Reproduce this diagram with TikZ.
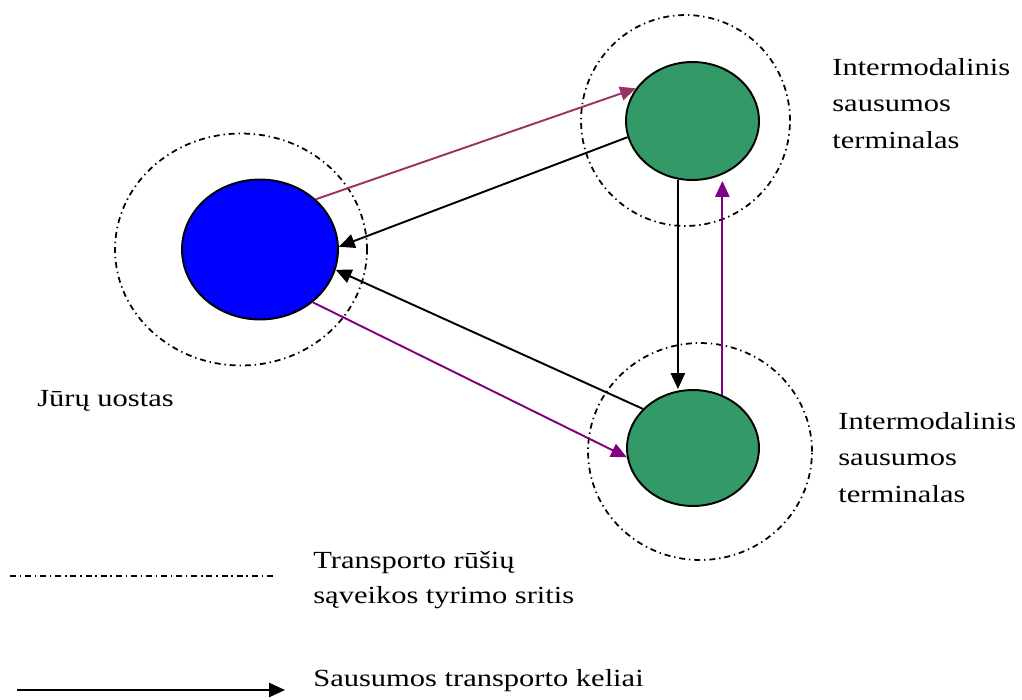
\documentclass[tikz,border=0pt]{standalone}
\usepackage{fontspec}
\setmainfont[FakeStretch=1.24]{Liberation Serif}
\usetikzlibrary{shapes.geometric,arrows.meta}
\definecolor{terminalgreen}{RGB}{51,153,102}
\definecolor{plumline}{RGB}{153,51,102}
\definecolor{purpleline}{RGB}{128,0,128}

\begin{document}
\begin{tikzpicture}[x=0.02cm,y=-0.02cm,
		zoneline/.style={line width=1pt,dash pattern=on 3.4pt off 2.2pt on 0.8pt off 2.2pt},
		zone/.style={draw,ellipse,inner sep=0pt,zoneline},
		port/.style={draw,ellipse,inner sep=0pt,line width=1.1pt},
		road/.style={-{Triangle[length=9pt,width=8pt]},line width=1.1pt},
		nodetext/.style={anchor=base west,inner sep=0pt,align=left,font=\fontsize{14}{20.5}\selectfont}]
	\useasboundingbox (0,0) rectangle (1022,700);
	\node[zone,minimum width=5.04cm,minimum height=4.64cm] (portzone) at (241,249.5) {};
	\node[zone,minimum width=4.18cm,minimum height=4.22cm] (topzone) at (685.5,120.5) {};
	\node[zone,minimum width=4.48cm,minimum height=4.34cm] (bottomzone) at (700,451.5) {};
	\node[port,fill=blue,minimum width=3.12cm,minimum height=2.8cm] (port) at (260,249.5) {};
	\node[port,fill=terminalgreen,minimum width=2.66cm,minimum height=2.36cm] (topterm) at (692.5,121) {};
	\node[port,fill=terminalgreen,minimum width=2.64cm,minimum height=2.32cm] (bottomterm) at (693,448) {};
	\draw[road,plumline] (port.42.6) -- (topterm.150);
	\draw[road] (topterm.194.5) -- (port.2.6);
	\draw[road] (bottomterm.142.4) -- (port.-15);
	\draw[road,purpleline] (port.-45.3) -- (bottomterm.188.6);
	\draw[road] (topterm.256) -- (topterm.256 |- bottomterm.north);
	\draw[road,purpleline] (bottomterm.61) -- (bottomterm.61 |- topterm.south);
	\node[nodetext] (toplabel) at (832,148) {Intermodalinis\\sausumos\\terminalas};
	\node[nodetext] (bottomlabel) at (838,502) {Intermodalinis\\sausumos\\terminalas};
	\node[nodetext] (portlabel) at (37,406) {Jūrų uostas};
	\node[nodetext,font=\fontsize{14}{19.5}\selectfont] (zonelabel) at (313,603) {Transporto rūšių\\sąveikos tyrimo sritis};
	\node[nodetext] (roadlabel) at (313,686) {Sausumos transporto keliai};
	\coordinate (zonestart) at (10,576);
	\coordinate (zoneend) at (275,576);
	\draw[zoneline] (zonestart) -- (zoneend);
	\coordinate (roadstart) at (17,690);
	\coordinate (roadend) at (285,690);
	\draw[road] (roadstart) -- (roadend);
\end{tikzpicture}
\end{document}
